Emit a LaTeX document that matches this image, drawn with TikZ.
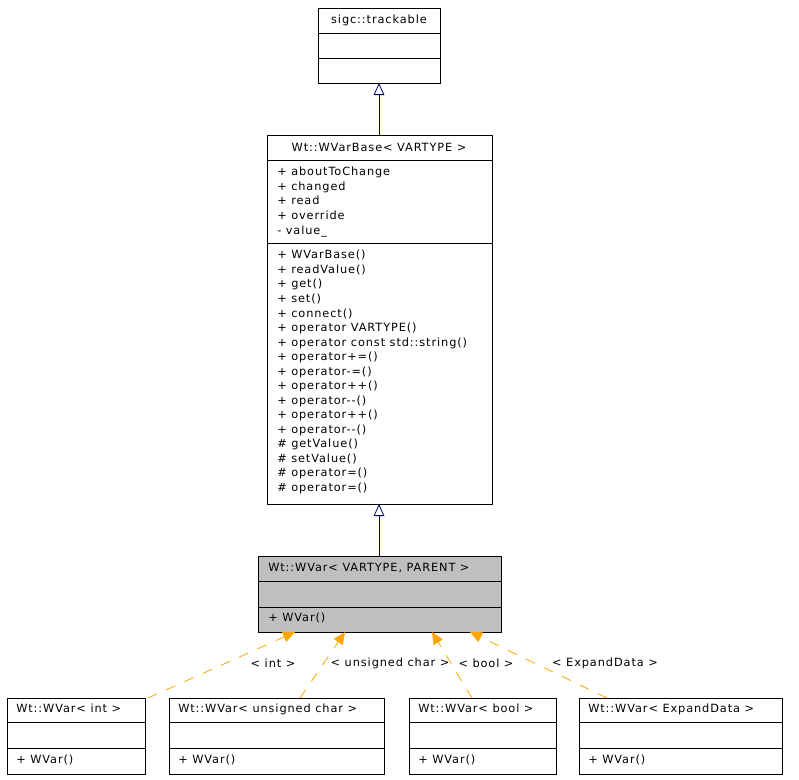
\documentclass[tikz,border=0pt]{standalone}
\usepackage{fontspec}
\setmainfont{DejaVu Sans}[LetterSpace=8]
\usetikzlibrary{arrows.meta}
\begin{document}
\begin{tikzpicture}[x=0.75pt,y=-0.75pt,
  every node/.style={font=\fontsize{8.5pt}{10.9pt}\selectfont, inner sep=0pt},
  boxline/.style={draw=black, line width=0.75pt},
  txt/.style={anchor=north west, align=left},
  inh/.style={draw=navy, line width=0.6pt, -{Triangle[open,length=9pt,width=8pt,fill=white]}},
  tmpl/.style={draw=orange, line width=0.6pt, dash pattern=on 7.5pt off 7.5pt, -{Triangle[length=9pt,width=8pt]}},
  lbl/.style={text=black}]
\colorlet{navy}{blue!40!black}
\definecolor{orange}{RGB}{255,165,0}
\useasboundingbox (0,0) rectangle (799,779);
% trackable
\draw[boxline] (318,8) rectangle (440,83);
\draw[boxline] (318,33) -- (440,33) (318,58) -- (440,58);
\node (tr) at (379,20.5) {sigc::trackable};
\coordinate (trb) at (379,83);
% WVarBase
\draw[boxline] (267,135) rectangle (492,504);
\draw[boxline] (267,160) -- (492,160) (267,243) -- (492,243);
\node (wb) at (379,147.5) {Wt::WVarBase< VARTYPE >};
\coordinate (wbt) at (379,135);
\coordinate (wbb) at (379,504);
\node[txt] (wba) at (277,167) {+ aboutToChange\\+ changed\\+ read\\+ override\\- value\_};
\node[txt] (wbm) at (277,250) {+ WVarBase()\\+ readValue()\\+ get()\\+ set()\\+ connect()\\+ operator VARTYPE()\\+ operator const std::string()\\+ operator+=()\\+ operator-=()\\+ operator++()\\+ operator-{}-()\\+ operator++()\\+ operator-{}-()\\\# getValue()\\\# setValue()\\\# operator=()\\\# operator=()};
% WVar
\draw[boxline, fill=black!25] (258,556) rectangle (501,632);
\draw[boxline] (258,581) -- (501,581) (258,607) -- (501,607);
\node[txt] (wv) at (268,563) {Wt::WVar< VARTYPE, PARENT >};
\node[txt] (wvm) at (268,613) {+ WVar()};
\coordinate (wvt) at (379,556);
\draw[inh] (wbt) -- (trb);
\draw[inh] (wvt) -- (wbb);
% bottom boxes
\foreach \a/\b/\t/\n in {7/145/int/i,169/384/unsigned char/u,409/556/bool/b,579/782/ExpandData/e}{
  \draw[boxline] (\a,698) rectangle (\b,774);
  \draw[boxline] (\a,722) -- (\b,722) (\a,748) -- (\b,748);
  \node[txt] (n\n) at (\a+9,704) {Wt::WVar< \t\ >};
  \node[txt] (m\n) at (\a+9,755) {+ WVar()};
}
\coordinate (s1) at (148,698); \coordinate (t1) at (295,632);
\coordinate (s2) at (300,698); \coordinate (t2) at (345,632);
\coordinate (s3) at (472,698); \coordinate (t3) at (432,632);
\coordinate (s4) at (607,698); \coordinate (t4) at (470,632);
\draw[tmpl] (s1) -- (t1);
\draw[tmpl] (s2) -- (t2);
\draw[tmpl] (s3) -- (t3);
\draw[tmpl] (s4) -- (t4);
\node[lbl] (l1) at (273,663) {< int >};
\node[lbl] (l2) at (390,663) {< unsigned char >};
\node[lbl] (l3) at (486,663) {< bool >};
\node[lbl] (l4) at (605,663) {< ExpandData >};
\end{tikzpicture}
\end{document}
